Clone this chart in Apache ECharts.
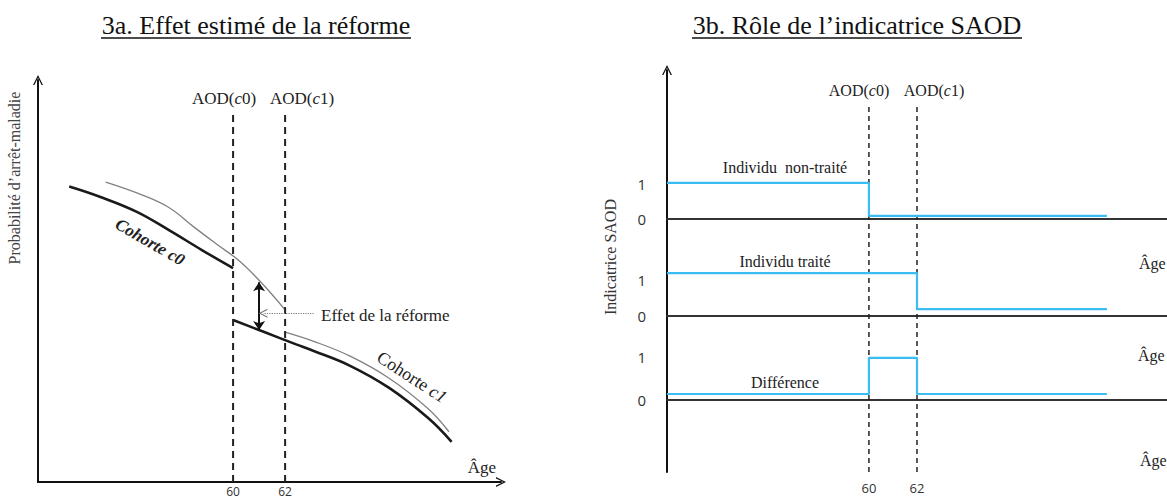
<!DOCTYPE html>
<html>
<head>
<meta charset="utf-8">
<script src="https://cdn.jsdelivr.net/npm/echarts@6/dist/echarts.min.js"></script>
<style>
  html, body { margin: 0; padding: 0; background: #fff; }
  #chart { width: 1167px; height: 499px; }
</style>
</head>
<body>
<div id="chart"></div>
<script>
  // ---- data ----
  var ageMarks = [60, 62];          // AOD(c0), AOD(c1)
  var markTop = 0.913;              // top of the dashed age lines

  // 3a: sick-leave probability curves
  var c0Ages = [53.7, 54.9, 56.3, 57.6, 58.8, 60];
  var c0Prob = [0.735, 0.709, 0.672, 0.624, 0.577, 0.532];
  var c1Ages = [60, 61.2, 62.4, 63.1, 64.5, 66.0, 67.5, 68.4];
  var c1Prob = [0.403, 0.373, 0.343, 0.326, 0.289, 0.234, 0.159, 0.100];
  var trendBeforeAges = [55.1, 56.3, 57.5, 58.5, 59.4, 60.2, 61.1, 62.0];
  var trendBeforeProb = [0.746, 0.719, 0.684, 0.634, 0.590, 0.552, 0.495, 0.428];
  var trendAfterAges = [62.0, 63.1, 64.5, 66.0, 67.5, 68.3];
  var trendAfterProb = [0.373, 0.350, 0.313, 0.258, 0.182, 0.125];
  var effectAge = 61.0, effectTop = 0.497, effectBottom = 0.378;
  var pointerFrom = 63.1, pointerTo = 61.15, pointerLevel = 0.420;

  // 3b: SAOD indicator (step points)
  var untreatedAges = [51.6, 60, 69.9];
  var untreatedVals = [1.03, 0.09, 0.09];
  var treatedAges = [51.6, 62, 69.9];
  var treatedVals = [1.19, 0.19, 0.19];
  var diffAges = [51.6, 60, 62, 69.9];
  var diffVals = [0.14, 0.98, 0.14, 0.14];

  var SERIF = '"Liberation Serif", "Times New Roman", serif';
  var SANS = '"Open Sans", "Noto Sans", sans-serif';
  var BLUE = '#3bbcf2';
  var CHEVRON = 'path://M0,12 L6,0 L12,12 L10.3,12 L6,3.2 L1.7,12 Z';

  function pairs(xs, ys) {
    return xs.map(function (x, i) { return [x, ys[i]]; });
  }

  var chart = echarts.init(document.getElementById('chart'), null, { renderer: 'svg' });

  function curve(xs, ys, width, color) {
    return {
      type: 'line', xAxisIndex: 0, yAxisIndex: 0,
      data: pairs(xs, ys), smooth: 0.4, symbol: 'none',
      lineStyle: { width: width, color: color }, silent: true, z: 3
    };
  }

  function dashed(gridIdx, age, dash, width) {
    return {
      type: 'line', xAxisIndex: gridIdx, yAxisIndex: gridIdx,
      data: [[age, 0], [age, markTop]], symbol: 'none', silent: true,
      lineStyle: { type: dash, width: width, color: '#222' }
    };
  }

  function step(idx, xs, ys) {
    return {
      type: 'line', xAxisIndex: idx, yAxisIndex: idx, step: 'end', clip: false,
      data: pairs(xs, ys), symbol: 'none', silent: true,
      lineStyle: { color: BLUE, width: 2.2 }
    };
  }

  function txt(x, y, text, size, extra) {
    extra = extra || {};
    return {
      type: 'text', x: x, y: y, rotation: (extra.rot || 0) * Math.PI / 180, silent: true,
      style: {
        text: text, fontFamily: extra.family || SERIF, fontSize: size,
        fontStyle: extra.italic ? 'italic' : 'normal', fontWeight: extra.bold ? 'bold' : 'normal',
        fill: extra.color || '#222', align: extra.align || 'center', verticalAlign: 'middle',
        rich: extra.rich
      }
    };
  }

  function mixedRich(size) {
    return {
      n: { fontFamily: SERIF, fontSize: size, fill: '#222' },
      i: { fontFamily: SERIF, fontSize: size, fontStyle: 'italic', fill: '#222' }
    };
  }

  var hiddenParts = { axisTick: { show: false }, splitLine: { show: false } };
  var arrowLine = { show: true, symbol: ['none', CHEVRON], symbolSize: [11, 10], lineStyle: { color: '#111', width: 2 } };

  var option = {
    animation: false,
    grid: [
      { left: 38, top: 80, width: 463, height: 402, outerBoundsMode: 'none' },
      { left: 667, top: 70, width: 500, height: 402, outerBoundsMode: 'none' },
      { left: 667, top: 184, width: 500, height: 35, outerBoundsMode: 'none' },
      { left: 667, top: 280, width: 500, height: 36, outerBoundsMode: 'none' },
      { left: 667, top: 357, width: 500, height: 43, outerBoundsMode: 'none' }
    ],
    xAxis: [
      Object.assign({
        gridIndex: 0, type: 'value', min: 52.5, max: 70.3,
        axisLine: arrowLine,
        axisLabel: { customValues: ageMarks, fontFamily: SANS, fontSize: 12, color: '#333', margin: 3 }
      }, hiddenParts),
      Object.assign({
        gridIndex: 1, type: 'value', min: 51.6, max: 72.4,
        axisLine: { show: false },
        axisLabel: { customValues: ageMarks, fontFamily: SANS, fontSize: 13, color: '#333', margin: 9 }
      }, hiddenParts),
      [2, 3, 4].map(function (g) {
        return Object.assign({
          gridIndex: g, type: 'value', min: 51.6, max: 72.4,
          axisLine: { show: true, lineStyle: { color: '#333', width: 2 } },
          axisLabel: { show: false }
        }, hiddenParts);
      })
    ].flat(),
    yAxis: [
      Object.assign({
        gridIndex: 0, type: 'value', min: 0, max: 1,
        axisLine: arrowLine, axisLabel: { show: false }
      }, hiddenParts),
      Object.assign({
        gridIndex: 1, type: 'value', min: 0, max: 1,
        axisLine: arrowLine, axisLabel: { show: false }
      }, hiddenParts),
      [2, 3, 4].map(function (g) {
        return Object.assign({
          gridIndex: g, type: 'value', min: 0, max: 1, interval: 1,
          axisLine: { show: false },
          axisLabel: { fontFamily: SANS, fontSize: 15, color: '#333', margin: 21 }
        }, hiddenParts);
      })
    ].flat(),
    series: [
      curve(trendBeforeAges, trendBeforeProb, 1.3, '#808080'),
      curve(trendAfterAges, trendAfterProb, 1.3, '#808080'),
      curve(c0Ages, c0Prob, 2.6, '#1a1a1a'),
      curve(c1Ages, c1Prob, 2.6, '#1a1a1a'),
      dashed(0, ageMarks[0], [7, 5], 2),
      dashed(0, ageMarks[1], [7, 5], 2),
      {
        type: 'line', xAxisIndex: 0, yAxisIndex: 0, data: [],
        markLine: {
          silent: true, symbol: ['arrow', 'arrow'], symbolSize: 9, label: { show: false },
          lineStyle: { color: '#111', width: 2, type: 'solid' },
          data: [[{ coord: [effectAge, effectTop] }, { coord: [effectAge, effectBottom] }]]
        }
      },
      {
        type: 'line', xAxisIndex: 0, yAxisIndex: 0, data: [],
        markLine: {
          silent: true, symbol: ['none', CHEVRON], symbolSize: 9, label: { show: false },
          lineStyle: { color: '#777', width: 1.2, type: 'dotted' },
          data: [[{ coord: [pointerFrom, pointerLevel] }, { coord: [pointerTo, pointerLevel] }]]
        }
      },
      dashed(1, ageMarks[0], [5, 4], 1.5),
      dashed(1, ageMarks[1], [5, 4], 1.5),
      step(2, untreatedAges, untreatedVals),
      step(3, treatedAges, treatedVals),
      step(4, diffAges, diffVals)
    ],
    graphic: [
      // 3a
      txt(256, 25, '3a. Effet estimé de la réforme', 26, { color: '#111' }),
      { type: 'line', shape: { x1: 101, y1: 38, x2: 411, y2: 38 }, style: { stroke: '#111', lineWidth: 1.5 }, silent: true },
      txt(14, 178, 'Probabilité d\u2019arrêt-maladie', 16, { rot: 90, color: '#444' }),
      txt(224, 98, '{n|AOD(}{i|c}{n|0)}', 17, { rich: mixedRich(17) }),
      txt(302, 98, '{n|AOD(}{i|c}{n|1)}', 17, { rich: mixedRich(17) }),
      txt(482, 467, 'Âge', 17),
      txt(321, 315, 'Effet de la réforme', 17, { align: 'left' }),
      txt(150, 242, 'Cohorte c0', 17, { rot: -30, italic: true, bold: true }),
      txt(412, 377, '{n|Cohorte }{i|c1}', 18, { rot: -33, rich: mixedRich(18) }),
      // 3b
      txt(857, 25, '3b. Rôle de l\u2019indicatrice SAOD', 26, { color: '#111' }),
      { type: 'line', shape: { x1: 692, y1: 38, x2: 1022, y2: 38 }, style: { stroke: '#111', lineWidth: 1.5 }, silent: true },
      txt(610, 257, 'Indicatrice SAOD', 16, { rot: 90, color: '#333' }),
      txt(859, 90, '{n|AOD(}{i|c}{n|0)}', 16, { rich: mixedRich(16) }),
      txt(934, 90, '{n|AOD(}{i|c}{n|1)}', 16, { rich: mixedRich(16) }),
      txt(785, 167, 'Individu  non-traité', 16),
      txt(785, 261, 'Individu traité', 16),
      txt(785, 382, 'Différence', 16),
      txt(1139, 263, 'Âge', 16, { align: 'left' }),
      txt(1138, 355, 'Âge', 16, { align: 'left' }),
      txt(1140, 460, 'Âge', 16, { align: 'left' })
    ]
  };

  chart.setOption(option);
</script>
</body>
</html>
